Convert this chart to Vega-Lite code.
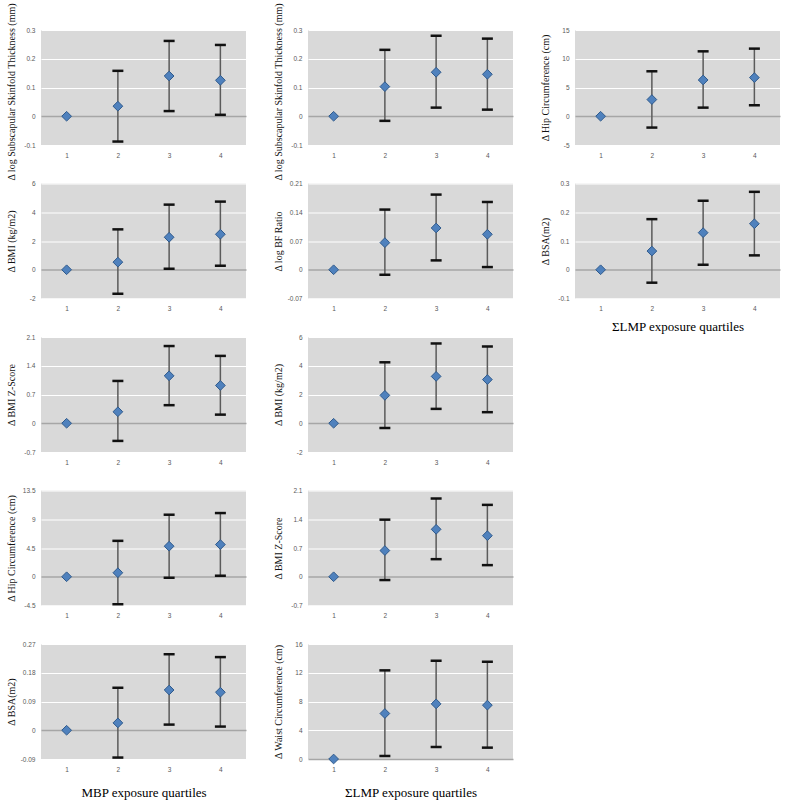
{
  "$schema": "https://vega.github.io/schema/vega-lite/v6.json",
  "padding": {"left": 5, "top": 2, "right": 0, "bottom": 0},
  "background": "white",
  "columns": 3,
  "bounds": "flush",
  "spacing": {"row": 38.5, "column": 62},
  "config": {
    "view": {"fill": "#d9d9d9", "stroke": null},
    "axis": {"domain": false, "ticks": false, "labelFont": "Liberation Sans", "labelFontSize": 6.5, "labelColor": "#595959", "titleFont": "Liberation Serif", "titleFontWeight": "normal", "titleColor": "#111111"},
    "axisX": {"labelAngle": 0, "labelPadding": 7, "grid": false, "titleFontSize": 13, "titlePadding": 14, "titleColor": "#000000"},
    "axisY": {"labelPadding": 6, "minExtent": 20, "maxExtent": 20, "titlePadding": 5, "titleFontSize": 10,
      "gridColor": {"condition": {"test": "datum.value === 0", "value": "#a6a6a6"}, "value": "#ffffff"},
      "gridWidth": {"condition": {"test": "datum.value === 0", "value": 1.5}, "value": 1.2}}
  },
  "datasets": {
    "d": [
      {"p": "A", "q": 1, "est": 0, "lo": null, "hi": null},
      {"p": "A", "q": 2, "est": 0.035, "lo": -0.088, "hi": 0.158},
      {"p": "A", "q": 3, "est": 0.14, "lo": 0.018, "hi": 0.262},
      {"p": "A", "q": 4, "est": 0.125, "lo": 0.005, "hi": 0.248},
      {"p": "B", "q": 1, "est": 0, "lo": null, "hi": null},
      {"p": "B", "q": 2, "est": 0.53, "lo": -1.67, "hi": 2.81},
      {"p": "B", "q": 3, "est": 2.26, "lo": 0.07, "hi": 4.53},
      {"p": "B", "q": 4, "est": 2.47, "lo": 0.28, "hi": 4.74},
      {"p": "C", "q": 1, "est": 0, "lo": null, "hi": null},
      {"p": "C", "q": 2, "est": 0.28, "lo": -0.43, "hi": 1.03},
      {"p": "C", "q": 3, "est": 1.155, "lo": 0.44, "hi": 1.88},
      {"p": "C", "q": 4, "est": 0.92, "lo": 0.21, "hi": 1.64},
      {"p": "D", "q": 1, "est": 0, "lo": null, "hi": null},
      {"p": "D", "q": 2, "est": 0.63, "lo": -4.3, "hi": 5.62},
      {"p": "D", "q": 3, "est": 4.78, "lo": -0.16, "hi": 9.71},
      {"p": "D", "q": 4, "est": 5.04, "lo": 0.16, "hi": 9.97},
      {"p": "E", "q": 1, "est": 0, "lo": null, "hi": null},
      {"p": "E", "q": 2, "est": 0.023, "lo": -0.0855, "hi": 0.133},
      {"p": "E", "q": 3, "est": 0.126, "lo": 0.0177, "hi": 0.238},
      {"p": "E", "q": 4, "est": 0.119, "lo": 0.0115, "hi": 0.229},
      {"p": "F", "q": 1, "est": 0, "lo": null, "hi": null},
      {"p": "F", "q": 2, "est": 0.103, "lo": -0.016, "hi": 0.231},
      {"p": "F", "q": 3, "est": 0.153, "lo": 0.03, "hi": 0.28},
      {"p": "F", "q": 4, "est": 0.146, "lo": 0.023, "hi": 0.27},
      {"p": "G", "q": 1, "est": 0, "lo": null, "hi": null},
      {"p": "G", "q": 2, "est": 0.066, "lo": -0.0122, "hi": 0.1465},
      {"p": "G", "q": 3, "est": 0.1017, "lo": 0.0228, "hi": 0.183},
      {"p": "G", "q": 4, "est": 0.0863, "lo": 0.0065, "hi": 0.165},
      {"p": "H", "q": 1, "est": 0, "lo": null, "hi": null},
      {"p": "H", "q": 2, "est": 1.94, "lo": -0.33, "hi": 4.24},
      {"p": "H", "q": 3, "est": 3.26, "lo": 1.0, "hi": 5.55},
      {"p": "H", "q": 4, "est": 3.04, "lo": 0.77, "hi": 5.34},
      {"p": "I", "q": 1, "est": 0, "lo": null, "hi": null},
      {"p": "I", "q": 2, "est": 0.638, "lo": -0.08, "hi": 1.39},
      {"p": "I", "q": 3, "est": 1.155, "lo": 0.428, "hi": 1.905},
      {"p": "I", "q": 4, "est": 1.0, "lo": 0.283, "hi": 1.75},
      {"p": "J", "q": 1, "est": 0, "lo": null, "hi": null},
      {"p": "J", "q": 2, "est": 6.33, "lo": 0.42, "hi": 12.33},
      {"p": "J", "q": 3, "est": 7.67, "lo": 1.67, "hi": 13.67},
      {"p": "J", "q": 4, "est": 7.49, "lo": 1.58, "hi": 13.53},
      {"p": "K", "q": 1, "est": 0, "lo": null, "hi": null},
      {"p": "K", "q": 2, "est": 2.9, "lo": -1.97, "hi": 7.82},
      {"p": "K", "q": 3, "est": 6.31, "lo": 1.5, "hi": 11.29},
      {"p": "K", "q": 4, "est": 6.72, "lo": 1.91, "hi": 11.76},
      {"p": "L", "q": 1, "est": 0, "lo": null, "hi": null},
      {"p": "L", "q": 2, "est": 0.065, "lo": -0.045, "hi": 0.176},
      {"p": "L", "q": 3, "est": 0.129, "lo": 0.0174, "hi": 0.24},
      {"p": "L", "q": 4, "est": 0.16, "lo": 0.05, "hi": 0.271}
    ]
  },
  "concat": [
    {"width": 205, "height": 115, "data": {"name": "d"}, "transform": [{"filter": "datum.p === 'A'"}],
     "encoding": {"x": {"field": "q", "type": "ordinal", "scale": {"type": "point", "padding": 0.5}, "axis": {"title": null}},
       "y": {"field": "est", "type": "quantitative", "title": "Δ log Subscapular Skinfold Thickness (mm)", "scale": {"domain": [-0.1, 0.3], "nice": false, "zero": false}, "axis": {"values": [-0.1, 0, 0.1, 0.2, 0.3], "labelExpr": "toString(datum.value)", "titleY": 61.5}}},
     "layer": [
       {"mark": {"type": "rule", "color": "#5b5b5b", "strokeWidth": 1.5}, "encoding": {"y": {"field": "lo", "type": "quantitative"}, "y2": {"field": "hi"}}},
       {"mark": {"type": "tick", "color": "#111111", "size": 11, "thickness": 2.5, "opacity": 1}, "encoding": {"y": {"field": "lo", "type": "quantitative"}}},
       {"mark": {"type": "tick", "color": "#111111", "size": 11, "thickness": 2.5, "opacity": 1}, "encoding": {"y": {"field": "hi", "type": "quantitative"}}},
       {"mark": {"type": "point", "shape": "diamond", "filled": true, "size": 95, "color": "#4f81bd", "stroke": "#2f5a8c", "strokeWidth": 1, "opacity": 1}}
     ]},
    {"width": 205, "height": 115, "data": {"name": "d"}, "transform": [{"filter": "datum.p === 'F'"}],
     "encoding": {"x": {"field": "q", "type": "ordinal", "scale": {"type": "point", "padding": 0.5}, "axis": {"title": null}},
       "y": {"field": "est", "type": "quantitative", "title": "Δ log Subscapular Skinfold Thickness (mm)", "scale": {"domain": [-0.1, 0.3], "nice": false, "zero": false}, "axis": {"values": [-0.1, 0, 0.1, 0.2, 0.3], "labelExpr": "toString(datum.value)", "titleY": 61.5}}},
     "layer": [
       {"mark": {"type": "rule", "color": "#5b5b5b", "strokeWidth": 1.5}, "encoding": {"y": {"field": "lo", "type": "quantitative"}, "y2": {"field": "hi"}}},
       {"mark": {"type": "tick", "color": "#111111", "size": 11, "thickness": 2.5, "opacity": 1}, "encoding": {"y": {"field": "lo", "type": "quantitative"}}},
       {"mark": {"type": "tick", "color": "#111111", "size": 11, "thickness": 2.5, "opacity": 1}, "encoding": {"y": {"field": "hi", "type": "quantitative"}}},
       {"mark": {"type": "point", "shape": "diamond", "filled": true, "size": 95, "color": "#4f81bd", "stroke": "#2f5a8c", "strokeWidth": 1, "opacity": 1}}
     ]},
    {"width": 205, "height": 115, "data": {"name": "d"}, "transform": [{"filter": "datum.p === 'K'"}],
     "encoding": {"x": {"field": "q", "type": "ordinal", "scale": {"type": "point", "padding": 0.5}, "axis": {"title": null}},
       "y": {"field": "est", "type": "quantitative", "title": "Δ Hip Circumference (cm)", "scale": {"domain": [-5, 15], "nice": false, "zero": false}, "axis": {"values": [-5, 0, 5, 10, 15], "labelExpr": "toString(datum.value)"}}},
     "layer": [
       {"mark": {"type": "rule", "color": "#5b5b5b", "strokeWidth": 1.5}, "encoding": {"y": {"field": "lo", "type": "quantitative"}, "y2": {"field": "hi"}}},
       {"mark": {"type": "tick", "color": "#111111", "size": 11, "thickness": 2.5, "opacity": 1}, "encoding": {"y": {"field": "lo", "type": "quantitative"}}},
       {"mark": {"type": "tick", "color": "#111111", "size": 11, "thickness": 2.5, "opacity": 1}, "encoding": {"y": {"field": "hi", "type": "quantitative"}}},
       {"mark": {"type": "point", "shape": "diamond", "filled": true, "size": 95, "color": "#4f81bd", "stroke": "#2f5a8c", "strokeWidth": 1, "opacity": 1}}
     ]},
    {"width": 205, "height": 115, "data": {"name": "d"}, "transform": [{"filter": "datum.p === 'B'"}],
     "encoding": {"x": {"field": "q", "type": "ordinal", "scale": {"type": "point", "padding": 0.5}, "axis": {"title": null}},
       "y": {"field": "est", "type": "quantitative", "title": "Δ BMI (kg/m2)", "scale": {"domain": [-2, 6], "nice": false, "zero": false}, "axis": {"values": [-2, 0, 2, 4, 6], "labelExpr": "toString(datum.value)"}}},
     "layer": [
       {"mark": {"type": "rule", "color": "#5b5b5b", "strokeWidth": 1.5}, "encoding": {"y": {"field": "lo", "type": "quantitative"}, "y2": {"field": "hi"}}},
       {"mark": {"type": "tick", "color": "#111111", "size": 11, "thickness": 2.5, "opacity": 1}, "encoding": {"y": {"field": "lo", "type": "quantitative"}}},
       {"mark": {"type": "tick", "color": "#111111", "size": 11, "thickness": 2.5, "opacity": 1}, "encoding": {"y": {"field": "hi", "type": "quantitative"}}},
       {"mark": {"type": "point", "shape": "diamond", "filled": true, "size": 95, "color": "#4f81bd", "stroke": "#2f5a8c", "strokeWidth": 1, "opacity": 1}}
     ]},
    {"width": 205, "height": 115, "data": {"name": "d"}, "transform": [{"filter": "datum.p === 'G'"}],
     "encoding": {"x": {"field": "q", "type": "ordinal", "scale": {"type": "point", "padding": 0.5}, "axis": {"title": null}},
       "y": {"field": "est", "type": "quantitative", "title": "Δ log BF Ratio", "scale": {"domain": [-0.07, 0.21], "nice": false, "zero": false}, "axis": {"values": [-0.07, 0, 0.07, 0.14, 0.21], "labelExpr": "toString(datum.value)"}}},
     "layer": [
       {"mark": {"type": "rule", "color": "#5b5b5b", "strokeWidth": 1.5}, "encoding": {"y": {"field": "lo", "type": "quantitative"}, "y2": {"field": "hi"}}},
       {"mark": {"type": "tick", "color": "#111111", "size": 11, "thickness": 2.5, "opacity": 1}, "encoding": {"y": {"field": "lo", "type": "quantitative"}}},
       {"mark": {"type": "tick", "color": "#111111", "size": 11, "thickness": 2.5, "opacity": 1}, "encoding": {"y": {"field": "hi", "type": "quantitative"}}},
       {"mark": {"type": "point", "shape": "diamond", "filled": true, "size": 95, "color": "#4f81bd", "stroke": "#2f5a8c", "strokeWidth": 1, "opacity": 1}}
     ]},
    {"width": 205, "height": 115, "data": {"name": "d"}, "transform": [{"filter": "datum.p === 'L'"}],
     "encoding": {"x": {"field": "q", "type": "ordinal", "scale": {"type": "point", "padding": 0.5}, "axis": {"title": "ΣLMP exposure quartiles", "titlePadding": 8}},
       "y": {"field": "est", "type": "quantitative", "title": "Δ BSA(m2)", "scale": {"domain": [-0.1, 0.3], "nice": false, "zero": false}, "axis": {"values": [-0.1, 0, 0.1, 0.2, 0.3], "labelExpr": "toString(datum.value)"}}},
     "layer": [
       {"mark": {"type": "rule", "color": "#5b5b5b", "strokeWidth": 1.5}, "encoding": {"y": {"field": "lo", "type": "quantitative"}, "y2": {"field": "hi"}}},
       {"mark": {"type": "tick", "color": "#111111", "size": 11, "thickness": 2.5, "opacity": 1}, "encoding": {"y": {"field": "lo", "type": "quantitative"}}},
       {"mark": {"type": "tick", "color": "#111111", "size": 11, "thickness": 2.5, "opacity": 1}, "encoding": {"y": {"field": "hi", "type": "quantitative"}}},
       {"mark": {"type": "point", "shape": "diamond", "filled": true, "size": 95, "color": "#4f81bd", "stroke": "#2f5a8c", "strokeWidth": 1, "opacity": 1}}
     ]},
    {"width": 205, "height": 115, "data": {"name": "d"}, "transform": [{"filter": "datum.p === 'C'"}],
     "encoding": {"x": {"field": "q", "type": "ordinal", "scale": {"type": "point", "padding": 0.5}, "axis": {"title": null}},
       "y": {"field": "est", "type": "quantitative", "title": "Δ BMI Z-Score", "scale": {"domain": [-0.7, 2.1], "nice": false, "zero": false}, "axis": {"values": [-0.7, 0, 0.7, 1.4, 2.1], "labelExpr": "toString(datum.value)"}}},
     "layer": [
       {"mark": {"type": "rule", "color": "#5b5b5b", "strokeWidth": 1.5}, "encoding": {"y": {"field": "lo", "type": "quantitative"}, "y2": {"field": "hi"}}},
       {"mark": {"type": "tick", "color": "#111111", "size": 11, "thickness": 2.5, "opacity": 1}, "encoding": {"y": {"field": "lo", "type": "quantitative"}}},
       {"mark": {"type": "tick", "color": "#111111", "size": 11, "thickness": 2.5, "opacity": 1}, "encoding": {"y": {"field": "hi", "type": "quantitative"}}},
       {"mark": {"type": "point", "shape": "diamond", "filled": true, "size": 95, "color": "#4f81bd", "stroke": "#2f5a8c", "strokeWidth": 1, "opacity": 1}}
     ]},
    {"width": 205, "height": 115, "data": {"name": "d"}, "transform": [{"filter": "datum.p === 'H'"}],
     "encoding": {"x": {"field": "q", "type": "ordinal", "scale": {"type": "point", "padding": 0.5}, "axis": {"title": null}},
       "y": {"field": "est", "type": "quantitative", "title": "Δ BMI (kg/m2)", "scale": {"domain": [-2, 6], "nice": false, "zero": false}, "axis": {"values": [-2, 0, 2, 4, 6], "labelExpr": "toString(datum.value)"}}},
     "layer": [
       {"mark": {"type": "rule", "color": "#5b5b5b", "strokeWidth": 1.5}, "encoding": {"y": {"field": "lo", "type": "quantitative"}, "y2": {"field": "hi"}}},
       {"mark": {"type": "tick", "color": "#111111", "size": 11, "thickness": 2.5, "opacity": 1}, "encoding": {"y": {"field": "lo", "type": "quantitative"}}},
       {"mark": {"type": "tick", "color": "#111111", "size": 11, "thickness": 2.5, "opacity": 1}, "encoding": {"y": {"field": "hi", "type": "quantitative"}}},
       {"mark": {"type": "point", "shape": "diamond", "filled": true, "size": 95, "color": "#4f81bd", "stroke": "#2f5a8c", "strokeWidth": 1, "opacity": 1}}
     ]},
    {"width": 205, "height": 115, "data": {"values": []}, "mark": "point", "view": {"fill": "transparent", "stroke": "transparent"}},
    {"width": 205, "height": 115, "data": {"name": "d"}, "transform": [{"filter": "datum.p === 'D'"}],
     "encoding": {"x": {"field": "q", "type": "ordinal", "scale": {"type": "point", "padding": 0.5}, "axis": {"title": null}},
       "y": {"field": "est", "type": "quantitative", "title": "Δ Hip Circumference (cm)", "scale": {"domain": [-4.5, 13.5], "nice": false, "zero": false}, "axis": {"values": [-4.5, 0, 4.5, 9, 13.5], "labelExpr": "toString(datum.value)"}}},
     "layer": [
       {"mark": {"type": "rule", "color": "#5b5b5b", "strokeWidth": 1.5}, "encoding": {"y": {"field": "lo", "type": "quantitative"}, "y2": {"field": "hi"}}},
       {"mark": {"type": "tick", "color": "#111111", "size": 11, "thickness": 2.5, "opacity": 1}, "encoding": {"y": {"field": "lo", "type": "quantitative"}}},
       {"mark": {"type": "tick", "color": "#111111", "size": 11, "thickness": 2.5, "opacity": 1}, "encoding": {"y": {"field": "hi", "type": "quantitative"}}},
       {"mark": {"type": "point", "shape": "diamond", "filled": true, "size": 95, "color": "#4f81bd", "stroke": "#2f5a8c", "strokeWidth": 1, "opacity": 1}}
     ]},
    {"width": 205, "height": 115, "data": {"name": "d"}, "transform": [{"filter": "datum.p === 'I'"}],
     "encoding": {"x": {"field": "q", "type": "ordinal", "scale": {"type": "point", "padding": 0.5}, "axis": {"title": null}},
       "y": {"field": "est", "type": "quantitative", "title": "Δ BMI Z-Score", "scale": {"domain": [-0.7, 2.1], "nice": false, "zero": false}, "axis": {"values": [-0.7, 0, 0.7, 1.4, 2.1], "labelExpr": "toString(datum.value)"}}},
     "layer": [
       {"mark": {"type": "rule", "color": "#5b5b5b", "strokeWidth": 1.5}, "encoding": {"y": {"field": "lo", "type": "quantitative"}, "y2": {"field": "hi"}}},
       {"mark": {"type": "tick", "color": "#111111", "size": 11, "thickness": 2.5, "opacity": 1}, "encoding": {"y": {"field": "lo", "type": "quantitative"}}},
       {"mark": {"type": "tick", "color": "#111111", "size": 11, "thickness": 2.5, "opacity": 1}, "encoding": {"y": {"field": "hi", "type": "quantitative"}}},
       {"mark": {"type": "point", "shape": "diamond", "filled": true, "size": 95, "color": "#4f81bd", "stroke": "#2f5a8c", "strokeWidth": 1, "opacity": 1}}
     ]},
    {"width": 205, "height": 115, "data": {"values": []}, "mark": "point", "view": {"fill": "transparent", "stroke": "transparent"}},
    {"width": 205, "height": 115, "data": {"name": "d"}, "transform": [{"filter": "datum.p === 'E'"}],
     "encoding": {"x": {"field": "q", "type": "ordinal", "scale": {"type": "point", "padding": 0.5}, "axis": {"title": "MBP exposure quartiles"}},
       "y": {"field": "est", "type": "quantitative", "title": "Δ BSA(m2)", "scale": {"domain": [-0.09, 0.27], "nice": false, "zero": false}, "axis": {"values": [-0.09, 0, 0.09, 0.18, 0.27], "labelExpr": "toString(datum.value)"}}},
     "layer": [
       {"mark": {"type": "rule", "color": "#5b5b5b", "strokeWidth": 1.5}, "encoding": {"y": {"field": "lo", "type": "quantitative"}, "y2": {"field": "hi"}}},
       {"mark": {"type": "tick", "color": "#111111", "size": 11, "thickness": 2.5, "opacity": 1}, "encoding": {"y": {"field": "lo", "type": "quantitative"}}},
       {"mark": {"type": "tick", "color": "#111111", "size": 11, "thickness": 2.5, "opacity": 1}, "encoding": {"y": {"field": "hi", "type": "quantitative"}}},
       {"mark": {"type": "point", "shape": "diamond", "filled": true, "size": 95, "color": "#4f81bd", "stroke": "#2f5a8c", "strokeWidth": 1, "opacity": 1}}
     ]},
    {"width": 205, "height": 115, "data": {"name": "d"}, "transform": [{"filter": "datum.p === 'J'"}],
     "encoding": {"x": {"field": "q", "type": "ordinal", "scale": {"type": "point", "padding": 0.5}, "axis": {"title": "ΣLMP exposure quartiles"}},
       "y": {"field": "est", "type": "quantitative", "title": "Δ Waist Circumference (cm)", "scale": {"domain": [0, 16], "nice": false, "zero": false}, "axis": {"values": [0, 4, 8, 12, 16], "labelExpr": "toString(datum.value)"}}},
     "layer": [
       {"mark": {"type": "rule", "color": "#5b5b5b", "strokeWidth": 1.5}, "encoding": {"y": {"field": "lo", "type": "quantitative"}, "y2": {"field": "hi"}}},
       {"mark": {"type": "tick", "color": "#111111", "size": 11, "thickness": 2.5, "opacity": 1}, "encoding": {"y": {"field": "lo", "type": "quantitative"}}},
       {"mark": {"type": "tick", "color": "#111111", "size": 11, "thickness": 2.5, "opacity": 1}, "encoding": {"y": {"field": "hi", "type": "quantitative"}}},
       {"mark": {"type": "point", "shape": "diamond", "filled": true, "size": 95, "color": "#4f81bd", "stroke": "#2f5a8c", "strokeWidth": 1, "opacity": 1}}
     ]}
  ]
}
